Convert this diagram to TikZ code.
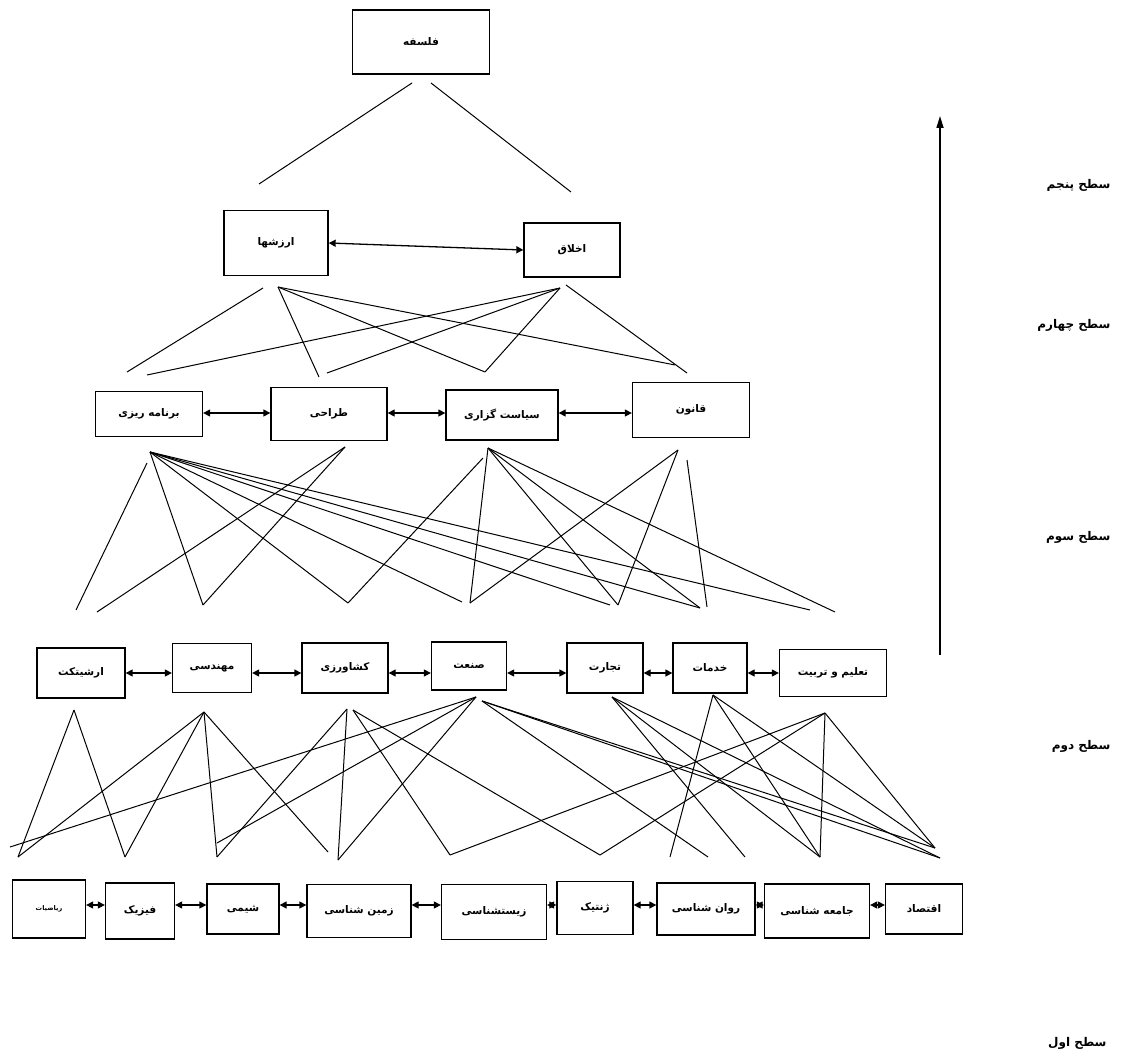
\documentclass[tikz,border=0pt]{standalone}
\usepackage{fontspec}
\usetikzlibrary{arrows.meta}
\newfontfamily\farsi[Script=Arabic]{DejaVu Sans}
\TeXXeTstate=1
\newcommand{\rl}[1]{\beginR #1\endR}

\begin{document}
\begin{tikzpicture}[x=1pt,y=-1pt,
    box/.style={draw,line width=1.3pt,inner sep=0pt,
      font=\farsi\bfseries\fontsize{10.5}{12}\selectfont},
    link/.style={line width=1pt},
    pair/.style={line width=1.3pt,
      {Triangle[length=7pt,width=7pt]}-{Triangle[length=7pt,width=7pt]}},
    tag/.style={anchor=east,font=\farsi\bfseries\fontsize{12}{14}\selectfont}]
  \useasboundingbox (0,0) rectangle (1124,1059);
  \coordinate (row3) at (0,413);
  \coordinate (row2) at (0,673);
  \coordinate (row1) at (0,905);

  % level 5 and 4
  \node[box,minimum width=137pt,minimum height=64pt] (falsafe) at (421,42) {\rl{فلسفه}};
  \node[box,minimum width=104pt,minimum height=65pt] (arzesh) at (276,243) {\rl{ارزشها}};
  \node[box,minimum width=96pt,minimum height=54pt] (akhlagh) at (572,250) {\rl{اخلاق}};
  \draw[pair] (arzesh.east) -- (akhlagh.west);

  % level 3
  \node[box,minimum width=107pt,minimum height=45pt] (barname) at (149,414) {\rl{برنامه ریزی}};
  \node[box,minimum width=116pt,minimum height=53pt] (tarahi) at (329,414) {\rl{طراحی}};
  \node[box,minimum width=112pt,minimum height=50pt] (siasat) at (502,415) {\rl{سیاست گزاری}};
  \node[box,minimum width=117pt,minimum height=55pt] (ghanun) at (691,410) {\rl{قانون}};
  \draw[pair] (barname.east |- row3) -- (tarahi.west |- row3);
  \draw[pair] (tarahi.east |- row3) -- (siasat.west |- row3);
  \draw[pair] (siasat.east |- row3) -- (ghanun.west |- row3);

  % level 2
  \node[box,minimum width=88pt,minimum height=50pt] (memari) at (81,673) {\rl{ارشیتکت}};
  \node[box,minimum width=79pt,minimum height=49pt] (mohandesi) at (212,668) {\rl{مهندسی}};
  \node[box,minimum width=86pt,minimum height=50pt] (keshavarzi) at (345,668) {\rl{کشاورزی}};
  \node[box,minimum width=75pt,minimum height=48pt] (sanat) at (469,666) {\rl{صنعت}};
  \node[box,minimum width=76pt,minimum height=50pt] (tejarat) at (605,668) {\rl{تجارت}};
  \node[box,minimum width=74pt,minimum height=50pt] (khadamat) at (710,668) {\rl{خدمات}};
  \node[box,minimum width=107pt,minimum height=47pt] (talim) at (833,673) {\rl{تعلیم و تربیت}};
  \draw[pair] (memari.east |- row2) -- (mohandesi.west |- row2);
  \draw[pair] (mohandesi.east |- row2) -- (keshavarzi.west |- row2);
  \draw[pair] (keshavarzi.east |- row2) -- (sanat.west |- row2);
  \draw[pair] (sanat.east |- row2) -- (tejarat.west |- row2);
  \draw[pair] (tejarat.east |- row2) -- (khadamat.west |- row2);
  \draw[pair] (khadamat.east |- row2) -- (talim.west |- row2);

  % level 1
  \node[box,minimum width=73pt,minimum height=58pt,font=\farsi\bfseries\fontsize{6.5}{8}\selectfont] (riazi) at (49,909) {\rl{ریاضیات}};
  \node[box,minimum width=69pt,minimum height=56pt] (fizik) at (140,911) {\rl{فیزیک}};
  \node[box,minimum width=72pt,minimum height=50pt] (shimi) at (243,909) {\rl{شیمی}};
  \node[box,minimum width=104pt,minimum height=53pt] (zamin) at (359,911) {\rl{زمین شناسی}};
  \node[box,minimum width=105pt,minimum height=55pt] (zist) at (494,912) {\rl{زیستشناسی}};
  \node[box,minimum width=76pt,minimum height=53pt] (genetik) at (595,908) {\rl{ژنتیک}};
  \node[box,minimum width=98pt,minimum height=52pt] (ravan) at (706,909) {\rl{روان شناسی}};
  \node[box,minimum width=105pt,minimum height=54pt] (jame) at (817,911) {\rl{جامعه شناسی}};
  \node[box,minimum width=77pt,minimum height=50pt] (eghtesad) at (924,909) {\rl{اقتصاد}};
  \draw[pair] (riazi.east |- row1) -- (fizik.west |- row1);
  \draw[pair] (fizik.east |- row1) -- (shimi.west |- row1);
  \draw[pair] (shimi.east |- row1) -- (zamin.west |- row1);
  \draw[pair] (zamin.east |- row1) -- (zist.west |- row1);
  \draw[pair] (zist.east |- row1) -- (genetik.west |- row1);
  \draw[pair] (genetik.east |- row1) -- (ravan.west |- row1);
  \draw[pair] (ravan.east |- row1) -- (jame.west |- row1);
  \draw[pair] (jame.east |- row1) -- (eghtesad.west |- row1);

  % free line ends
  \coordinate (p5a) at (412,83);  \coordinate (p5b) at (431,83);
  \coordinate (q4a) at (259,184); \coordinate (q4b) at (571,192);

  \coordinate (p4a) at (263,288); \coordinate (p4b) at (278,287);
  \coordinate (p4c) at (560,288); \coordinate (p4d) at (566,285);
  \coordinate (q3a) at (127,372); \coordinate (q3b) at (147,375);
  \coordinate (q3c) at (319,377); \coordinate (q3d) at (327,373);
  \coordinate (q3e) at (485,372); \coordinate (q3f) at (675,365);
  \coordinate (q3g) at (687,373);

  \coordinate (p3a) at (147,463); \coordinate (p3b) at (150,452);
  \coordinate (p3c) at (345,447); \coordinate (p3d) at (488,448);
  \coordinate (p3e) at (483,458); \coordinate (p3f) at (678,450);
  \coordinate (p3g) at (687,460);
  \coordinate (q2a) at (76,610);  \coordinate (q2b) at (97,612);
  \coordinate (q2c) at (203,605); \coordinate (q2d) at (348,603);
  \coordinate (q2e) at (462,602); \coordinate (q2f) at (470,603);
  \coordinate (q2g) at (610,605); \coordinate (q2h) at (618,605);
  \coordinate (q2i) at (700,608); \coordinate (q2j) at (707,607);
  \coordinate (q2k) at (810,610); \coordinate (q2l) at (835,612);

  \coordinate (p2a) at (74,710);  \coordinate (p2b) at (204,712);
  \coordinate (p2c) at (347,709); \coordinate (p2d) at (353,710);
  \coordinate (p2e) at (476,697); \coordinate (p2f) at (482,701);
  \coordinate (p2g) at (612,697); \coordinate (p2h) at (713,695);
  \coordinate (p2i) at (825,713);
  \coordinate (q1a) at (10,847);  \coordinate (q1b) at (18,857);
  \coordinate (q1c) at (125,857); \coordinate (q1d) at (217,843);
  \coordinate (q1e) at (217,857); \coordinate (q1f) at (328,852);
  \coordinate (q1g) at (338,860); \coordinate (q1h) at (450,855);
  \coordinate (q1i) at (600,855); \coordinate (q1j) at (670,857);
  \coordinate (q1k) at (708,857); \coordinate (q1l) at (745,857);
  \coordinate (q1m) at (820,857); \coordinate (q1o) at (935,848);
  \coordinate (q1p) at (940,858);

  \foreach \a/\b in {p5a/q4a, p5b/q4b,
      p4a/q3a, p4b/q3c, p4b/q3e, p4b/q3f, p4c/q3b, p4c/q3d, p4c/q3e, p4d/q3g,
      p3a/q2a, p3b/q2c, p3b/q2d, p3b/q2e, p3b/q2g, p3b/q2i, p3b/q2k,
      p3c/q2b, p3c/q2c, p3d/q2f, p3d/q2h, p3d/q2i, p3d/q2l, p3e/q2d,
      p3f/q2f, p3f/q2h, p3g/q2j,
      p2a/q1b, p2a/q1c, p2b/q1b, p2b/q1c, p2b/q1e, p2b/q1f,
      p2c/q1e, p2c/q1g, p2d/q1h, p2d/q1i, p2e/q1a, p2e/q1d, p2e/q1g,
      p2f/q1k, p2f/q1o, p2f/q1p, p2g/q1l, p2g/q1m, p2g/q1p,
      p2h/q1j, p2h/q1m, p2h/q1o, p2i/q1h, p2i/q1i, p2i/q1m, p2i/q1o}
    \draw[link] (\a) -- (\b);

  % levels
  \coordinate (up0) at (940,655);
  \coordinate (up1) at (940,116);
  \draw[line width=1.6pt,-{Triangle[length=12pt,width=7pt]}] (up0) -- (up1);
  \node[tag] (s5) at (1114,185) {\rl{سطح پنجم}};
  \node[tag] (s4) at (1114,325) {\rl{سطح چهارم}};
  \node[tag] (s3) at (1114,537) {\rl{سطح سوم}};
  \node[tag] (s2) at (1114,746) {\rl{سطح دوم}};
  \node[tag] (s1) at (1110,1043) {\rl{سطح اول}};
\end{tikzpicture}
\end{document}
